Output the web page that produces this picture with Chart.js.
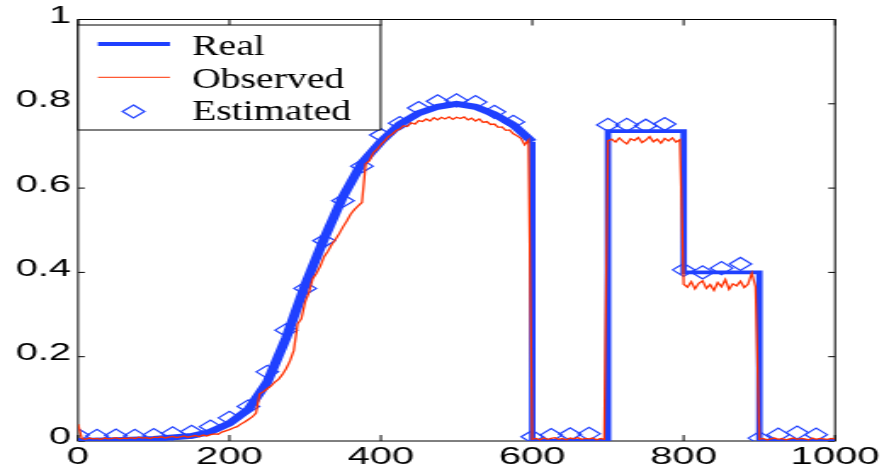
<!DOCTYPE html>
<html>
<head>
<meta charset="utf-8">
<script src="https://cdn.jsdelivr.net/npm/chart.js@4/dist/chart.umd.min.js"></script>
<style>
  body { margin: 0; background: #fff; }
  canvas { display: block; }
</style>
</head>
<body>
<!-- drawn at 520 wide and shown at 884: the reference is stretched sideways -->
<canvas id="myChart" width="520" height="470" style="width:884px;height:470px"></canvas>
<script>
////// data
const xTicks = [0, 200, 400, 600, 800, 1000]
const yTicks = [0, 0.2, 0.4, 0.6, 0.8, 1]

// Real: smooth hump, then the steps
const realX = [0, 50, 100, 150, 175, 200, 225, 250, 275, 300, 325, 350, 375, 400, 425, 450, 475, 500, 525, 550, 575, 600, 600, 700, 700, 800, 800, 900, 900, 1000]
const realY = [0, 0.002, 0.005, 0.012, 0.022, 0.042, 0.075, 0.14, 0.245, 0.37, 0.48, 0.58, 0.66, 0.71, 0.752, 0.778, 0.793, 0.8, 0.793, 0.775, 0.75, 0.71, 0, 0, 0.735, 0.735, 0.4, 0.4, 0, 0]

// Observed: one sample every 5
const obsStep = 5
const obsY = [
  0.040, 0.006, 0.004, 0.007, 0.005, 0.006, 0.004, 0.007, 0.005, 0.006,
  0.008, 0.005, 0.007, 0.006, 0.008, 0.006, 0.009, 0.007, 0.008, 0.006,
  0.009, 0.008, 0.010, 0.007, 0.009, 0.011, 0.008, 0.010, 0.012, 0.009,
  0.011, 0.013, 0.010, 0.014, 0.012, 0.015, 0.017, 0.016, 0.021, 0.024,
  0.027, 0.031, 0.034, 0.040, 0.045, 0.051, 0.057, 0.066, 0.112, 0.117,
  0.124, 0.131, 0.140, 0.147, 0.158, 0.172, 0.190, 0.215, 0.278, 0.290,
  0.330, 0.352, 0.385, 0.398, 0.415, 0.437, 0.450, 0.466, 0.478, 0.492,
  0.508, 0.522, 0.538, 0.549, 0.558, 0.566, 0.658, 0.665, 0.684, 0.692,
  0.703, 0.712, 0.722, 0.728, 0.736, 0.740, 0.748, 0.746, 0.755, 0.752,
  0.760, 0.758, 0.764, 0.759, 0.767, 0.762, 0.768, 0.764, 0.769, 0.763,
  0.768, 0.765, 0.769, 0.762, 0.766, 0.759, 0.764, 0.756, 0.758, 0.751,
  0.752, 0.744, 0.745, 0.737, 0.738, 0.729, 0.724, 0.718, 0.703, 0.714,
  0.004, 0.006, 0.003, 0.007, 0.004, 0.006, 0.008, 0.004, 0.006, 0.003,
  0.007, 0.005, 0.008, 0.004, 0.006, 0.005, 0.007, 0.003, 0.006, 0.004,
  0.712, 0.716, 0.709, 0.719, 0.711, 0.705, 0.717, 0.713, 0.720, 0.708,
  0.714, 0.722, 0.710, 0.716, 0.707, 0.718, 0.712, 0.719, 0.709, 0.715,
  0.372, 0.365, 0.378, 0.361, 0.374, 0.380, 0.362, 0.371, 0.357, 0.376,
  0.366, 0.383, 0.360, 0.373, 0.368, 0.379, 0.364, 0.372, 0.398, 0.366,
  0.004, 0.006, 0.003, 0.005, 0.007, 0.004, 0.006, 0.003, 0.005, 0.007,
  0.004, 0.006, 0.005, 0.003, 0.007, 0.004, 0.006, 0.005, 0.004, 0.006,
  0.005
]

// Estimated: one diamond every 25
const estStep = 25
const estY = [
  0.014, 0.012, 0.013, 0.012, 0.014, 0.018, 0.022, 0.034, 0.055, 0.082,
  0.164, 0.263, 0.362, 0.475, 0.57, 0.652, 0.726, 0.754, 0.79, 0.806,
  0.808, 0.804, 0.781, 0.757, 0.01, 0.014, 0.016, 0.017, 0.75, 0.75,
  0.748, 0.752, 0.406, 0.40, 0.41, 0.42, 0.007, 0.015, 0.02, 0.015
]

const blue = '#1f40ff'
const red = '#ff3000'

Chart.defaults.font.family = "'Liberation Sans', Arial, sans-serif"

////// frame with inward ticks on all four sides
const framePlugin = {
  id: 'frame',
  beforeDatasetsDraw(chart) {
    const {ctx, chartArea: a, scales: {x, y}} = chart
    ctx.save()
    ctx.strokeStyle = '#000'
    ctx.lineWidth = 1
    ctx.strokeRect(a.left, a.top, a.right - a.left, a.bottom - a.top)
    ctx.beginPath()
    x.ticks.forEach(t => {
      const px = x.getPixelForValue(t.value)
      ctx.moveTo(px, a.bottom); ctx.lineTo(px, a.bottom - 6)
      ctx.moveTo(px, a.top); ctx.lineTo(px, a.top + 6)
    })
    y.ticks.forEach(t => {
      const py = y.getPixelForValue(t.value)
      ctx.moveTo(a.left, py); ctx.lineTo(a.left + 4, py)
      ctx.moveTo(a.right, py); ctx.lineTo(a.right - 4, py)
    })
    ctx.stroke()
    ctx.restore()
  }
}

////// boxed legend in the top left corner
const boxLegend = {
  id: 'boxLegend',
  afterDatasetsDraw(chart) {
    const ctx = chart.ctx
    const left = chart.chartArea.left
    const top = 25, w = 178, h = 105
    ctx.save()
    ctx.fillStyle = '#fff'
    ctx.fillRect(left, top, w, h)
    ctx.strokeStyle = '#000'
    ctx.lineWidth = 1
    ctx.strokeRect(left, top, w, h)
    const mid = [44, 77.3, 111.5]
    const base = [55, 88, 120]
    chart.data.datasets.forEach((ds, i) => {
      const cy = mid[i]
      ctx.beginPath()
      if (ds.showLine === false) {
        const cx = 78.5, r = 6.5
        ctx.moveTo(cx, cy - r); ctx.lineTo(cx + r, cy)
        ctx.lineTo(cx, cy + r); ctx.lineTo(cx - r, cy)
        ctx.closePath()
        ctx.strokeStyle = ds.pointBorderColor
        ctx.lineWidth = ds.pointBorderWidth
      } else {
        ctx.moveTo(57.6, cy); ctx.lineTo(100, cy)
        ctx.strokeStyle = ds.borderColor
        ctx.lineWidth = ds.label === 'Real' ? 4 : 1
      }
      ctx.stroke()
      // serif text, less stretched than the rest
      ctx.save()
      ctx.translate(112.9, base[i])
      ctx.scale(0.78, 1)
      ctx.fillStyle = '#000'
      ctx.font = "30px 'Liberation Serif', 'Times New Roman', serif"
      ctx.textBaseline = 'alphabetic'
      ctx.fillText(ds.label, 0, 0)
      ctx.restore()
    })
    ctx.restore()
  }
}

const ctx = document.getElementById('myChart')
const myChart = new Chart(ctx, {
  type: 'line',
  data: {
    datasets: [{
      label: 'Real',
      data: realX.map((x, i) => ({x: x, y: realY[i]})),
      borderColor: blue,
      borderWidth: 3.8,
      pointRadius: 0,
      tension: 0,
      order: 1,
      segment: {
        borderWidth: c => realX[c.p0DataIndex] < 600 ? 6 : 3.8
      }
    },
    {
      label: 'Observed',
      data: obsY.map((y, i) => ({x: i * obsStep, y: y})),
      borderColor: red,
      borderWidth: 1.3,
      pointRadius: 0,
      tension: 0,
      order: 0
    },
    {
      label: 'Estimated',
      data: estY.map((y, i) => ({x: i * estStep, y: y})),
      showLine: false,
      pointStyle: 'rectRot',
      pointRadius: 6.5,
      pointBorderWidth: 1.2,
      pointBorderColor: blue,
      pointBackgroundColor: 'rgba(0,0,0,0)',
      borderColor: blue,
      order: 2,
      clip: 0
    }]
  },
  options: {
    responsive: false,
    animation: false,
    devicePixelRatio: 1,
    layout: { padding: { top: 19.5, right: 28.8, left: 0, bottom: 0 } },
    plugins: {
      legend: { display: false },
      tooltip: { enabled: false }
    },
    scales: {
      x: {
        type: 'linear',
        min: xTicks[0],
        max: xTicks[xTicks.length - 1],
        grid: { display: false, drawTicks: false },
        border: { display: false },
        afterBuildTicks: s => { s.ticks = xTicks.map(v => ({value: v})) },
        ticks: {
          padding: 2,
          color: '#000',
          font: { size: 23.5 },
          maxRotation: 0,
          autoSkip: false,
          callback: v => String(v)
        },
        afterFit: s => { s.height = 29 }
      },
      y: {
        min: yTicks[0],
        max: yTicks[yTicks.length - 1],
        grid: { display: false, drawTicks: false },
        border: { display: false },
        afterBuildTicks: s => { s.ticks = yTicks.map(v => ({value: v})) },
        ticks: {
          padding: 4,
          labelOffset: -3,
          color: '#000',
          font: { size: 23.5 },
          callback: v => String(v)
        },
        afterFit: s => { s.width = 45.9 }
      }
    }
  },
  plugins: [framePlugin, boxLegend]
})
</script>
</body>
</html>
